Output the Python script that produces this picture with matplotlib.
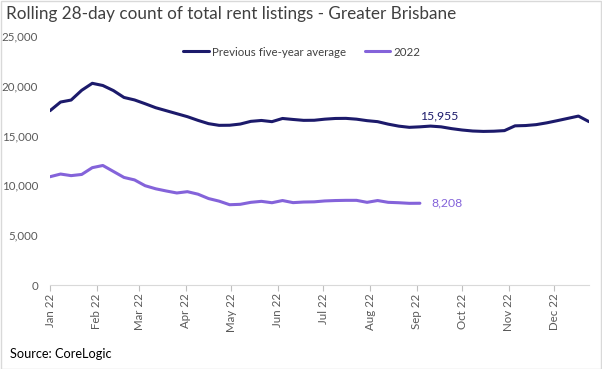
import matplotlib
matplotlib.use("Agg")
import matplotlib.pyplot as plt
import matplotlib.dates as mdates
import pandas as pd
from matplotlib.patches import Rectangle

plt.rcParams['font.family'] = ['Lato', 'DejaVu Sans']

title = "Rolling 28-day count of total rent listings - Greater Brisbane"
source = "Source: CoreLogic"
series_names = ["Previous five-year average", "2022"]

prev_avg = [17500, 18370, 18570, 19550, 20250, 20030, 19520, 18830, 18580, 18200,
            17800, 17500, 17200, 16900, 16530, 16200, 16030, 16040, 16160, 16430,
            16520, 16400, 16720, 16620, 16530, 16540, 16650, 16720, 16730, 16650,
            16500, 16400, 16150, 15950, 15830, 15880, 15955, 15880, 15700, 15560,
            15460, 15420, 15440, 15500, 15980, 16010, 16100, 16280, 16500, 16730,
            16960, 16400]
y2022 = [10870, 11140, 10980, 11100, 11780, 12000, 11400, 10800, 10550, 9970,
         9660, 9440, 9240, 9370, 9120, 8680, 8420, 8060, 8100, 8300,
         8400, 8260, 8480, 8270, 8330, 8350, 8440, 8480, 8500, 8500,
         8300, 8480, 8300, 8260, 8200, 8208]

dates = pd.date_range("2022-01-01", periods=len(prev_avg), freq="7D")
dates22 = dates[:len(y2022)]

c_dark = "#1c1a6b"
c_purple = "#8463da"
c_text = "#595959"

fig = plt.figure(figsize=(6.02, 3.69), dpi=100)
W, H = 602, 369
ax = fig.add_axes([50 / W, 1 - 285 / H, (589 - 50) / W, (285 - 36) / H])

ax.plot(dates, prev_avg, color=c_dark, lw=2.2, solid_capstyle='round',
        solid_joinstyle='round', label=series_names[0])
ax.plot(dates22, y2022, color=c_purple, lw=2.2, solid_capstyle='round',
        solid_joinstyle='round', label=series_names[1])

ax.set_xlim(dates[0], dates[-1])
ax.set_ylim(0, 25000)
ax.set_yticks(range(0, 25001, 5000))
ax.yaxis.set_major_formatter(matplotlib.ticker.FuncFormatter(lambda v, p: f"{int(v):,}"))

ax.xaxis.set_major_locator(mdates.MonthLocator())
ax.xaxis.set_major_formatter(mdates.DateFormatter("%b %y"))
for lab in ax.get_xticklabels():
    lab.set_rotation(90)

ax.tick_params(axis='x', colors='#bfbfbf', labelcolor=c_text, labelsize=8.3,
               length=4, width=0.8, pad=2)
ax.tick_params(axis='y', length=0, labelcolor=c_text, labelsize=8.3, pad=8.5)

for s in ['top', 'right', 'left']:
    ax.spines[s].set_visible(False)
ax.spines['bottom'].set_color('#d9d9d9')
ax.spines['bottom'].set_linewidth(0.8)

# data labels
i_dark = 36
ax.annotate(f"{prev_avg[i_dark]:,}", (dates[i_dark], prev_avg[i_dark]),
            xytext=(6, 3), textcoords='offset points', ha='center', va='bottom',
            color=c_dark, fontsize=8.8)
ax.annotate(f"{y2022[-1]:,}", (dates22[-1], y2022[-1]),
            xytext=(8, 0), textcoords='offset points', ha='left', va='center',
            color=c_purple, fontsize=8.8)

leg = ax.legend(loc='center', bbox_to_anchor=(302 / W, 1 - 52 / H),
                bbox_transform=fig.transFigure, ncol=2, frameon=False,
                fontsize=8.3, handlelength=2.2, handletextpad=0.3,
                columnspacing=1.6)
for t in leg.get_texts():
    t.set_color('#404040')

fig.text(6 / W, 1 - 14 / H, title, ha='left', va='center', fontsize=12.3,
         color='#404040')
fig.text(10 / W, 1 - 354 / H, source, ha='left', va='center', fontsize=9.2,
         color='black')

fig.patches.append(Rectangle((0.5 / W, 0.5 / H), 1 - 1.5 / W, 1 - 1.5 / H,
                             transform=fig.transFigure, fill=False,
                             edgecolor='#d9d9d9', lw=1))

fig.savefig("out.png", dpi=100)
